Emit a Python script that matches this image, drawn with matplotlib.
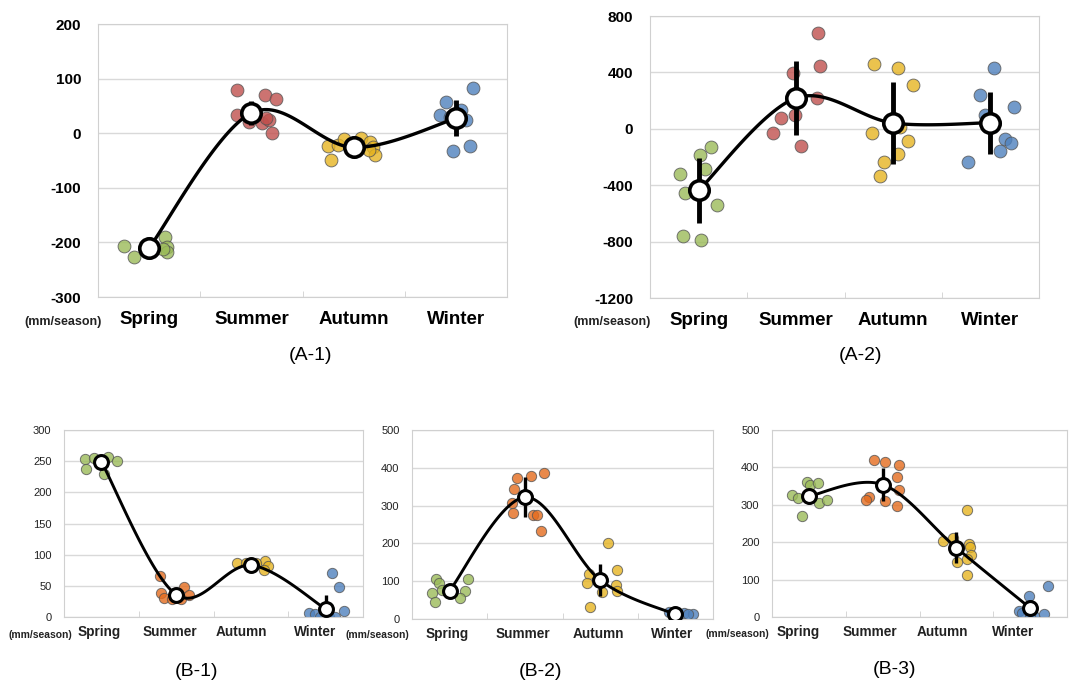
import numpy as np
import matplotlib.pyplot as plt
import matplotlib.transforms as mtransforms

plt.rcParams['font.family'] = ['Liberation Sans', 'DejaVu Sans']

seasons = ['Spring', 'Summer', 'Autumn', 'Winter']

# ---- (A-1) ----
a1_mean = [-210, 37, -26, 27]
a1_err = [8, 22, 10, 33]
a1_pts = [[-207, -226, -190, -208, -218, -212],
          [79, 70, 62, 33, 21, 19, 24, 1, 28],
          [-24, -49, -22, -10, -8, -16, -25, -40, -30],
          [33, 57, 25, 82, -32, -23, 42, 30]]
a1_dx = [[-0.245, -0.15, 0.16, 0.17, 0.17, 0.14],
         [-0.14, 0.13, 0.24, -0.14, -0.02, 0.1, 0.17, 0.2, 0.14],
         [-0.25, -0.22, -0.15, -0.09, 0.07, 0.16, 0.19, 0.21, 0.15],
         [-0.16, -0.1, 0.1, 0.17, -0.03, 0.14, 0.05, -0.06]]

# ---- (A-2) ----
a2_mean = [-437, 218, 41, 43]
a2_err = [230, 263, 288, 220]
a2_pts = [[-324, -456, -189, -284, -130, -539, -763, -787],
          [-31, 76, 395, 95, -125, 679, 445, 220],
          [461, 433, 308, -31, 12, -87, -177, -236, -338],
          [430, 241, 154, 95, -71, -102, -154, -232]]
a2_dx = [[-0.19, -0.14, 0.01, 0.07, 0.13, 0.19, -0.16, 0.02],
         [-0.24, -0.15, -0.03, -0.01, 0.05, 0.23, 0.25, 0.22],
         [-0.2, 0.05, 0.2, -0.22, 0.07, 0.15, 0.05, -0.09, -0.14],
         [0.04, -0.11, 0.24, -0.06, 0.15, 0.21, 0.1, -0.23]]

# ---- (B-1) ----
b1_mean = [249, 36, 83, 13]
b1_err = [5, 6, 5, 23]
b1_pts = [[254, 237, 255, 230, 256, 251],
          [66, 39, 31, 48, 35, 29, 29],
          [86, 87, 90, 82, 75, 87],
          [70, 48, 10, 6, 5, 0, 0, 0]]
b1_dx = [[-0.22, -0.21, -0.1, 0.03, 0.09, 0.21],
         [-0.21, -0.2, -0.16, 0.11, 0.17, 0.07, -0.06],
         [-0.18, -0.07, 0.19, 0.23, 0.17, 0.07],
         [0.09, 0.18, 0.24, -0.22, -0.14, -0.08, 0.05, 0.12]]

# ---- (B-2) ----
b2_mean = [75, 322, 103, 12]
b2_err = [10, 53, 42, 3]
b2_pts = [[105, 94, 70, 44, 106, 74, 56, 77],
          [373, 379, 386, 344, 308, 281, 274, 274, 234],
          [200, 130, 119, 94, 90, 72, 33, 75],
          [19, 15, 13, 12]]
b2_dx = [[-0.18, -0.14, -0.23, -0.19, 0.24, 0.21, 0.14, -0.1],
         [-0.11, 0.08, 0.25, -0.14, -0.17, -0.16, 0.11, 0.16, 0.22],
         [0.1, 0.23, -0.15, -0.18, 0.21, 0.03, -0.14, 0.22],
         [-0.08, 0.12, 0.24, 0.17]]

# ---- (B-3) ----
b3_mean = [323, 354, 185, 24]
b3_err = [20, 45, 41, 10]
b3_pts = [[326, 317, 361, 354, 359, 305, 312, 270],
          [419, 415, 406, 375, 339, 321, 312, 310, 296],
          [286, 203, 210, 196, 187, 167, 155, 147, 113],
          [82, 57, 15, 11, 9, 2, 2]]
b3_dx = [[-0.23, -0.15, -0.03, 0.01, 0.12, 0.14, 0.24, -0.1],
         [-0.12, 0.03, 0.22, 0.19, 0.22, -0.18, -0.23, 0.03, 0.19],
         [0.15, -0.18, -0.04, 0.17, 0.19, 0.2, 0.14, 0.01, 0.14],
         [0.24, -0.02, -0.15, -0.11, 0.19, 0.05, 0.0]]

col_a = ['#9bbb59', '#c0504d', '#e6b422', '#4f81bd']
col_b = ['#9bbb59', '#e46c1e', '#e6b422', '#4f81bd']


def smooth(xs, ys, n=40):
    # Catmull-Rom style smoothing (like Excel "smoothed line")
    p = np.column_stack([xs, ys]).astype(float)
    p = np.vstack([p[0], p, p[-1]])
    out = []
    for i in range(1, len(p) - 2):
        p0, p1, p2, p3 = p[i - 1], p[i], p[i + 1], p[i + 2]
        c1 = p1 + (p2 - p0) / 6
        c2 = p2 - (p3 - p1) / 6
        t = np.linspace(0, 1, n)[:, None]
        seg = ((1 - t) ** 3) * p1 + 3 * ((1 - t) ** 2) * t * c1 + 3 * (1 - t) * t ** 2 * c2 + t ** 3 * p2
        out.append(seg)
    out = np.vstack(out)
    return out[:, 0], out[:, 1]


def panel(rect, mean, err, pts, dx, cols, ylim, yticks, big, lab_shift=(0, 0, 0, 0)):
    ax = fig.add_axes(rect)
    x = np.arange(1, 5)
    ms_pt = 85 if big else 55
    for i in range(4):
        ax.scatter(x[i] + np.array(dx[i]), pts[i], s=ms_pt, color=cols[i],
                   alpha=0.8, edgecolor='#555555', linewidth=0.7, zorder=2)
    ax.errorbar(x, mean, yerr=err, fmt='none', ecolor='black',
                elinewidth=3.5 if big else 2.4, capsize=0, zorder=3)
    sx, sy = smooth(x, mean)
    ax.plot(sx, sy, color='black', lw=2.4 if big else 2.1, zorder=4)
    ax.plot(x, mean, 'o', ms=14 if big else 10, mfc='white', mec='black',
            mew=2.6 if big else 2.2, zorder=5)
    ax.set_xlim(0.5, 4.5)
    ax.set_ylim(*ylim)
    ax.set_yticks(yticks)
    ax.set_xticks(x)
    ax.set_xticks([1.5, 2.5, 3.5], minor=True)
    ax.grid(axis='y', color='#d9d9d9', lw=1)
    ax.set_axisbelow(True)
    for s in ax.spines.values():
        s.set_color('#d0d0d0')
    ax.tick_params(axis='x', which='major', length=0)
    ax.tick_params(axis='x', which='minor', length=4, color='#d0d0d0', direction='in')
    ax.tick_params(axis='y', length=0)
    if big:
        ax.set_xticklabels(seasons, fontsize=13.5, fontweight='bold')
        ax.set_yticklabels([str(v) for v in yticks], fontsize=11, fontweight='bold')
        ax.tick_params(axis='x', pad=10)
        ax.tick_params(axis='y', pad=12)
    else:
        ax.set_xticklabels(seasons, fontsize=9.8, fontweight='bold', color='#222222')
        ax.set_yticklabels([str(v) for v in yticks], fontsize=8, color='#222222')
        ax.tick_params(axis='x', pad=6)
        ax.tick_params(axis='y', pad=9)
    # small horizontal nudge of category labels, as in the reference
    for lbl, sh in zip(ax.get_xticklabels(), lab_shift):
        lbl.set_transform(lbl.get_transform() +
                          mtransforms.ScaledTranslation(sh / 100, 0, fig.dpi_scale_trans))
    return ax


W, H = 1080, 694
fig = plt.figure(figsize=(W / 100, H / 100), dpi=100)


def r(l, rt, t, b):
    return [l / W, 1 - b / H, (rt - l) / W, (b - t) / H]


panel(r(98, 507, 24, 297), a1_mean, a1_err, a1_pts, a1_dx, col_a,
      (-300, 200), [-300, -200, -100, 0, 100, 200], True)
panel(r(650, 1039, 16, 298), a2_mean, a2_err, a2_pts, a2_dx, col_a,
      (-1200, 800), [-1200, -800, -400, 0, 400, 800], True)
panel(r(64, 363, 430, 617), b1_mean, b1_err, b1_pts, b1_dx, col_b,
      (0, 300), [0, 50, 100, 150, 200, 250, 300], False, (-2, -6, -9, -11))
panel(r(412, 713, 430, 619), b2_mean, b2_err, b2_pts, b2_dx, col_b,
      (0, 500), [0, 100, 200, 300, 400, 500], False, (-2, -2, -2, -3))
panel(r(772, 1067, 430, 617), b3_mean, b3_err, b3_pts, b3_dx, col_b,
      (0, 500), [0, 100, 200, 300, 400, 500], False, (-11, -13, -14, -17))

# unit labels
for xp, yp, fs in [(63, 322, 9), (612, 322, 9), (40, 635, 7.5), (377, 635, 7.5), (737, 634, 7.5)]:
    fig.text(xp / W, 1 - yp / H, '(mm/season)', ha='center', va='center',
             fontsize=fs, fontweight='bold', color='#222222')

# panel titles
for xp, yp, lab in [(310, 355, '(A-1)'), (860, 355, '(A-2)'),
                    (197, 671, '(B-1)'), (540, 671, '(B-2)'), (895, 670, '(B-3)')]:
    fig.text(xp / W, 1 - yp / H, lab, ha='center', va='center', fontsize=14)

fig.savefig('out.png', dpi=100)
